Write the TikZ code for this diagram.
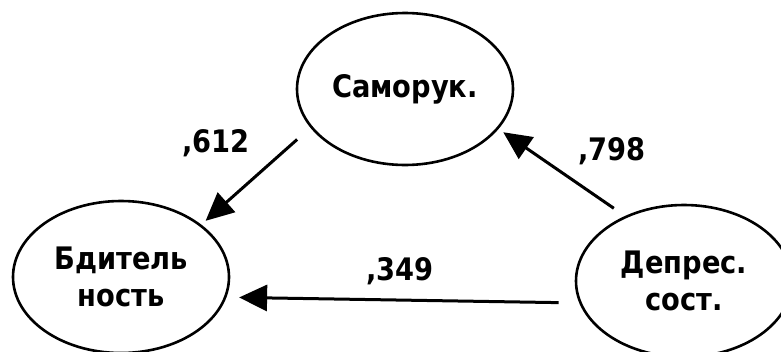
\documentclass[tikz,border=0pt]{standalone}
\usepackage{fontspec}
\newfontfamily\lblfont[FakeStretch=0.88]{DejaVu Sans Bold}
\usetikzlibrary{arrows.meta, shapes.geometric}

\tikzset{
  factor/.style={draw, line width=2.6pt, ellipse, minimum width=216pt, minimum height=152pt,
                 inner sep=0pt, outer sep=0pt, align=center,
                 font=\lblfont\fontsize{31}{37}\selectfont},
  pathline/.style={draw, line width=3pt, -{Triangle[length=28pt,width=26pt]}},
  coef/.style={anchor=base, inner sep=0pt, font=\lblfont\fontsize{31}{37}\selectfont}
}

\begin{document}
\begin{tikzpicture}[x=1pt, y=-1pt]
  \useasboundingbox (0,0) rectangle (781,351);

  % latent factors
  \node[factor] (samoruk) at (405,89)  {Саморук.};
  \node[factor] (bdit)    at (121,277) {Бдитель\\ность};
  \node[factor] (depr)    at (684,281) {Депрес.\\сост.};

  % structural paths
  \draw[pathline, shorten <=19pt, shorten >=7pt]  (samoruk.202) -- (bdit.33);
  \draw[pathline, shorten <=15pt, shorten >=7pt]  (depr.132)    -- (samoruk.-23);
  \draw[pathline, shorten <=22pt, shorten >=14pt] (depr.192)    -- (bdit.-11.5);

  % path coefficients
  \node[coef] (c612) at (216,152) {,612};
  \node[coef] (c798) at (612,160) {,798};
  \node[coef] (c349) at (400,280) {,349};
\end{tikzpicture}
\end{document}
